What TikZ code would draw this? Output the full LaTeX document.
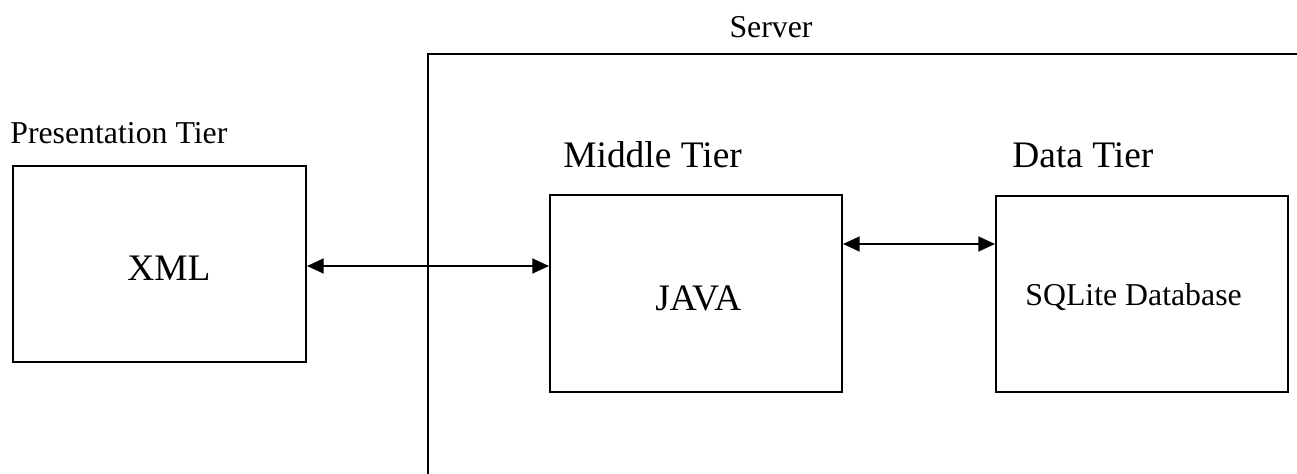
\documentclass[tikz,border=0pt]{standalone}
\usepackage{fontspec}
\setmainfont{Liberation Serif}
\usetikzlibrary{arrows.meta}
\begin{document}
\begin{tikzpicture}[x=0.02cm,y=-0.02cm,
  box/.style={draw,line width=1.2pt,inner sep=0pt},
  smalltxt/.style={anchor=base west,inner sep=0pt,font=\fontsize{18.1pt}{20pt}\selectfont},
  bigtxt/.style={anchor=base west,inner sep=0pt,font=\fontsize{21.3pt}{24pt}\selectfont},
  biarrow/.style={line width=1.2pt,{Triangle[length=9.5pt,width=8.5pt]}-{Triangle[length=9.5pt,width=8.5pt]}},
  frame/.style={line width=1.2pt}]
\useasboundingbox (0,0) rectangle (1297,473);
% server frame
\coordinate (sbl) at (428,474);
\coordinate (stl) at (428,54);
\coordinate (str) at (1298,54);
\draw[frame] (sbl) -- (stl) -- (str);
\node[smalltxt,anchor=base] (server) at (771,38) {Server};
% boxes
\node[box,minimum width=5.86cm,minimum height=3.92cm] (xml) at (159.5,264) {};
\node[box,minimum width=5.84cm,minimum height=3.94cm] (java) at (696,293.5) {};
\node[box,minimum width=5.84cm,minimum height=3.92cm] (sql) at (1142,294) {};
% labels
\node[smalltxt] (pres) at (10,143) {Presentation Tier};
\node[bigtxt] (mid) at (563,167) {Middle Tier};
\node[bigtxt] (data) at (1012,167) {Data Tier};
\node[bigtxt] (xmlt) at (127,280) {XML};
\node[bigtxt] (javat) at (655,310) {JAVA};
\node[smalltxt] (sqlt) at (1025,305) {SQLite Database};
% arrows
\draw[biarrow] (xml.east |- 0,266) -- (java.west |- 0,266);
\draw[biarrow] (java.east |- 0,244) -- (sql.west |- 0,244);
\end{tikzpicture}
\end{document}
